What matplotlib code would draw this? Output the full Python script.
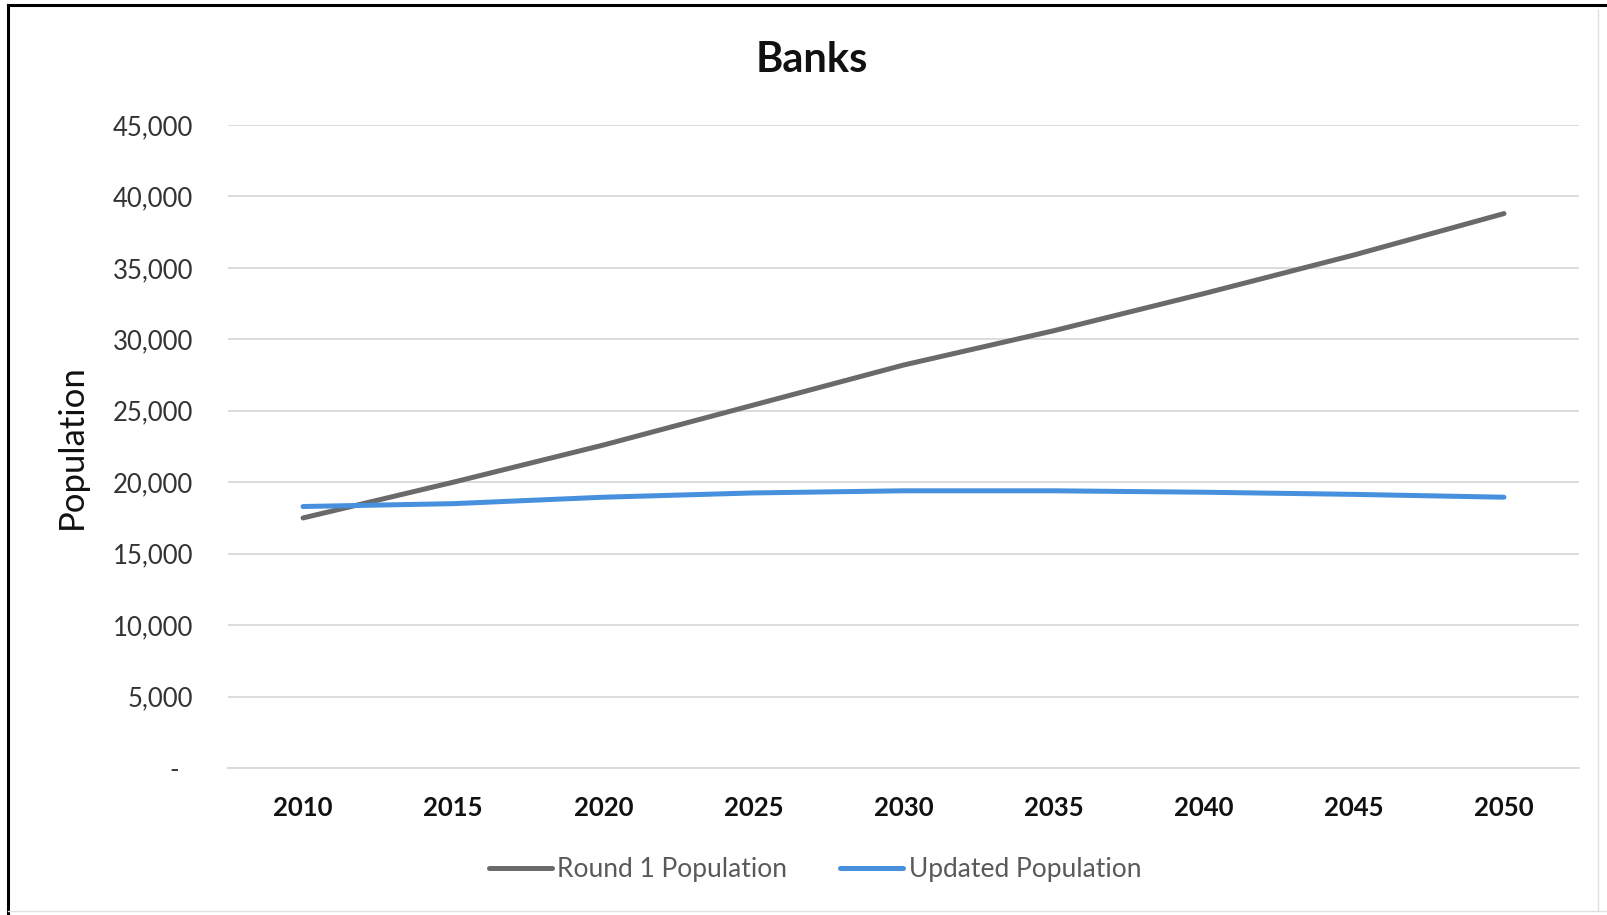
import matplotlib.pyplot as plt
from matplotlib.lines import Line2D
from matplotlib.ticker import FuncFormatter

# --- data ---
years = [2010, 2015, 2020, 2025, 2030, 2035, 2040, 2045, 2050]
round1_population = [17500, 20000, 22600, 25400, 28200, 30600, 33200, 35900, 38800]
updated_population = [18300, 18500, 18950, 19250, 19400, 19400, 19300, 19150, 18950]
y_ticks = [0, 5000, 10000, 15000, 20000, 25000, 30000, 35000, 40000, 45000]

plt.rcParams['font.family'] = ['Lato', 'DejaVu Sans']

W, H = 1608, 915
fig = plt.figure(figsize=(W / 100, H / 100), dpi=100)
fig.patch.set_facecolor('white')

# plot area in pixel coords -> figure fractions
left, right, top, bottom = 228, 1579, 125, 768
ax = fig.add_axes([left / W, 1 - bottom / H, (right - left) / W, (bottom - top) / H])

x = list(range(len(years)))
ax.plot(x, round1_population, color='#6a6a6a', lw=3.6, solid_capstyle='round',
        label='Round 1 Population', zorder=3)
ax.plot(x, updated_population, color='#4690dd', lw=3.6, solid_capstyle='round',
        label='Updated Population', zorder=3)

ax.set_xlim(-0.5, len(years) - 0.5)
ax.set_ylim(0, 45000)
ax.set_yticks(y_ticks)
ax.yaxis.set_major_formatter(FuncFormatter(lambda v, p: '-  ' if v == 0 else f'{int(v):,}'))
ax.set_xticks(x)
ax.set_xticklabels([str(y) for y in years], fontweight='bold')

ax.grid(axis='y', color='#d9d9d9', lw=1.3, zorder=0)
for s in ['top', 'right', 'left']:
    ax.spines[s].set_visible(False)
ax.spines['bottom'].set_color('#d9d9d9')
ax.spines['bottom'].set_linewidth(1.3)
ax.tick_params(axis='both', length=0)
ax.tick_params(axis='y', labelsize=18.5, pad=25, labelcolor='#333333')
ax.tick_params(axis='x', labelsize=18.5, pad=20, labelcolor='#111111')

ax.set_ylabel('Population', fontsize=25, color='#111111')
ax.yaxis.set_label_coords(-0.104, 0.5)

fig.text(812 / W, 1 - 60 / H, 'Banks', fontsize=30, fontweight='bold',
         ha='center', va='center', color='#111111')

leg = fig.legend(loc='center', bbox_to_anchor=(815 / W, 1 - 870 / H), ncol=2,
                 frameon=False, fontsize=19, handlelength=2.4, handletextpad=0.2,
                 columnspacing=2.0)
for t in leg.get_texts():
    t.set_color('#595959')

# outer frame of the pasted chart
fig.add_artist(Line2D([8 / W, 8 / W], [1 - 5 / H, 0], color='black', lw=2.2,
                      transform=fig.transFigure))
fig.add_artist(Line2D([8 / W, 1], [1 - 5 / H, 1 - 5 / H], color='black', lw=2.2,
                      transform=fig.transFigure))
fig.add_artist(Line2D([1598 / W, 1598 / W], [1 - 10 / H, 4 / H], color='#e0e0e0', lw=1.0,
                      transform=fig.transFigure))
fig.add_artist(Line2D([8 / W, 1], [4 / H, 4 / H], color='#e0e0e0', lw=1.0,
                      transform=fig.transFigure))

fig.savefig('out.png', dpi=100)
